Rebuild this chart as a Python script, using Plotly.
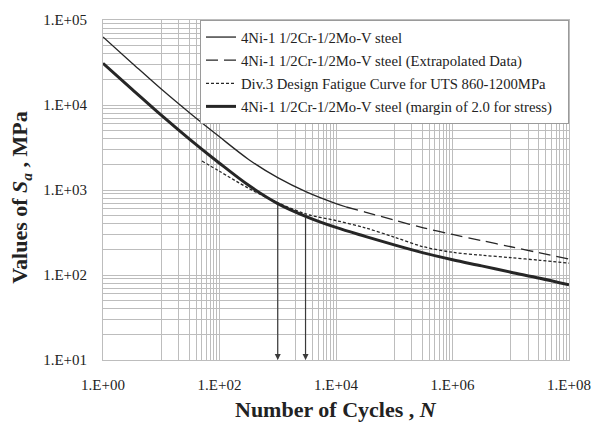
import numpy as np
import plotly.graph_objects as go

# ---- data ----
N_solid = [1, 3.16, 10, 31.6, 100, 316, 1000, 3160, 10000, 15000]
S_solid = [63100, 31050, 15380, 7940, 4220, 2290, 1396, 944, 692, 631]

N_extrap = [15000, 31600, 1e5, 3.16e5, 1e6, 3.16e6, 1e7, 3.16e7, 1e8]
S_extrap = [631, 550, 442, 359, 300, 254, 215, 182, 154]

N_div3 = [50, 100, 316, 1000, 3160, 1e4, 3.16e4, 1e5, 3.16e5, 1e6, 3.16e6, 1e7, 3.16e7, 1e8]
S_div3 = [2190, 1660, 1047, 708, 519, 437, 359, 279, 215, 185, 171, 160, 149, 138]

N_margin = [1, 3.16, 10, 31.6, 100, 316, 1000, 3160, 1e4, 3.16e4, 1e5, 3.16e5, 1e6, 3.16e6, 1e7, 3.16e7, 1e8]
S_margin = [30900, 15310, 7590, 3890, 2065, 1135, 692, 484, 363, 285, 226, 182, 151, 128, 108, 91.7, 76.5]

arrow_N = [1000, 3000]
arrow_S = [692, 492]
arrow_floor = 10

x_tickvals = [1, 1e2, 1e4, 1e6, 1e8]
x_ticktext = ["1.E+00", "1.E+02", "1.E+04", "1.E+06", "1.E+08"]
y_tickvals = [10, 1e2, 1e3, 1e4, 1e5]
y_ticktext = ["1.E+01", "1.E+02", "1.E+03", "1.E+04", "1.E+05"]

names = [
    "4Ni-1 1/2Cr-1/2Mo-V steel",
    "4Ni-1 1/2Cr-1/2Mo-V steel (Extrapolated Data)",
    "Div.3 Design Fatigue Curve for UTS 860-1200MPa",
    "4Ni-1 1/2Cr-1/2Mo-V steel (margin of 2.0 for stress)",
]
x_title = "<b>Number of Cycles , <i>N</i></b>"
y_title = "<b>Values of <i>S<sub>a</sub></i> , MPa</b>"

# grid positions: every decade on x, plus 2..9 minors in odd decades (as in reference)
x_minor = [10 ** k for k in range(0, 9)]
for k in (1, 3, 5, 7):
    x_minor += [m * 10 ** k for m in range(2, 10)]
y_minor = []
for k in range(1, 5):
    y_minor += [m * 10 ** k for m in range(1, 10)]
y_minor.append(1e5)

FONT = "Liberation Serif"
LC = "#262626"
GRID = "#bdbdbd"
PAD = "\u00a0\u00a0\u00a0"  # invisible right padding inside the legend box

fig = go.Figure()
fig.add_trace(go.Scatter(x=N_solid, y=S_solid, mode="lines", name=names[0], legendgroup="a",
                         line=dict(color=LC, width=1.3, shape="spline", smoothing=0.9)))
fig.add_trace(go.Scatter(x=N_extrap, y=S_extrap, mode="lines", name=names[1], legendgroup="b",
                         line=dict(color=LC, width=1.3, dash="12px,6px", shape="spline", smoothing=0.9)))
fig.add_trace(go.Scatter(x=N_div3, y=S_div3, mode="lines", name=names[2], legendgroup="c",
                         line=dict(color=LC, width=1.3, dash="3px,2px", shape="spline", smoothing=0.9)))
fig.add_trace(go.Scatter(x=N_margin, y=S_margin, mode="lines", name=names[3] + PAD, legendgroup="d",
                         line=dict(color=LC, width=3, shape="spline", smoothing=0.9)))

for n, s in zip(arrow_N, arrow_S):
    fig.add_annotation(x=np.log10(n), y=np.log10(arrow_floor), ax=np.log10(n), ay=np.log10(s),
                       xref="x", yref="y", axref="x", ayref="y", text="", showarrow=True,
                       arrowhead=2, arrowsize=1, arrowwidth=1.2, arrowcolor="#3a3a3a", standoff=0)

fig.add_annotation(text=x_title, xref="paper", yref="paper", x=0.5, y=-0.147,
                   xanchor="center", yanchor="middle", showarrow=False,
                   font=dict(family=FONT, size=22, color="#222"))
fig.add_annotation(text=y_title, xref="paper", yref="paper", x=-0.176, y=0.48,
                   xanchor="center", yanchor="middle", showarrow=False, textangle=-90,
                   font=dict(family=FONT, size=22, color="#222"))

fig.update_layout(
    width=596, height=423,
    margin=dict(l=103, r=27, t=20, b=63),
    paper_bgcolor="white", plot_bgcolor="white",
    font=dict(family=FONT, color="#222"),
    legend=dict(x=1, y=1, xanchor="right", yanchor="top", bgcolor="white",
                bordercolor="#9a9a9a", borderwidth=1, tracegroupgap=1,
                font=dict(family=FONT, size=14.7, color="#222")),
    xaxis=dict(type="log", range=[0, 8], tickmode="array", tickvals=x_tickvals, ticktext=x_ticktext,
               showgrid=False, showline=True, linecolor=GRID, mirror=True, ticks="", automargin=False,
               ticklabelstandoff=11, tickfont=dict(family=FONT, size=15, color="#222"),
               minor=dict(tickmode="array", tickvals=x_minor, showgrid=True, gridcolor=GRID, gridwidth=1, ticks="")),
    yaxis=dict(type="log", range=[1, 5], tickmode="array", tickvals=y_tickvals, ticktext=y_ticktext,
               showgrid=False, showline=True, linecolor=GRID, mirror=True, ticks="", automargin=False,
               ticklabelstandoff=12, tickfont=dict(family=FONT, size=15, color="#222"),
               minor=dict(tickmode="array", tickvals=y_minor, showgrid=True, gridcolor=GRID, gridwidth=1, ticks="")),
)

fig.write_html("out.html")
